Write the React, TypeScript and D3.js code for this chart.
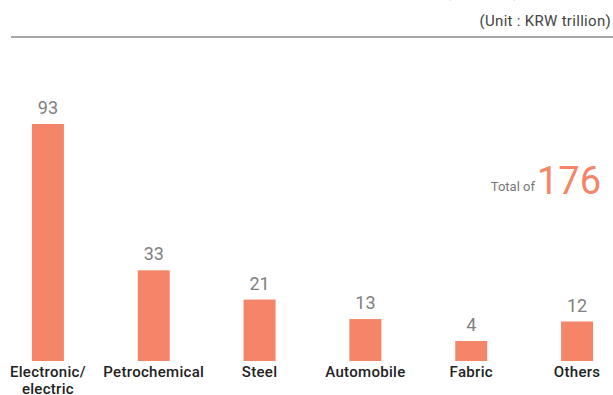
import React from "react";
import * as d3 from "d3";

const categories = [["Electronic/", "electric"], ["Petrochemical"], ["Steel"], ["Automobile"], ["Fabric"], ["Others"]];
const values = [93, 33, 21, 13, 4, 12];
const totalLabel = "Total of";
const totalValue = 176;
const unitLabel = "(Unit : KRW trillion)";
const titleText = "Damage Scale by Industry Type (Apply)";

const W = 613;
const H = 395;
const FONT = "Roboto, 'Noto Sans', sans-serif";

export default function App() {
  const x = d3
    .scaleBand<number>()
    .domain(d3.range(values.length))
    .range([-5, 630])
    .paddingInner(0.7)
    .paddingOuter(0.35);
  const y = d3.scaleLinear().domain([-4.2, 93]).range([361, 124]);
  const bw = 32;

  return (
    <svg
      width={W}
      height={H}
      style={{ position: "absolute", left: 0, top: 0, background: "#fff" }}
      fontFamily={FONT}
    >
      <text x={310} y={-5} textAnchor="middle" fontSize={24} fontWeight={700} fill="#2b7bb9">
        {titleText}
      </text>
      <text x={611} y={26} textAnchor="end" fontSize={15} fill="#444" letterSpacing={0.3}>
        {unitLabel}
      </text>
      <line x1={11} x2={613} y1={37} y2={37} stroke="#a8a8a8" strokeWidth={2} />
      {values.map((v, i) => {
        const cx = x(i)! + x.bandwidth() / 2;
        return (
          <g key={i}>
            <rect x={cx - bw / 2} y={y(v)} width={bw} height={y(-4.2) - y(v)} fill="#f58568" />
            <text x={cx} y={y(v) - 10} textAnchor="middle" fontSize={18} fill="#808080">
              {v}
            </text>
            {categories[i].map((line, j) => (
              <text key={j} x={cx} y={377 + j * 17} textAnchor="middle" fontSize={15} fontWeight={500} fill="#222" letterSpacing={0.3}>
                {line}
              </text>
            ))}
          </g>
        );
      })}
      <text x={535} y={191} textAnchor="end" fontSize={13} fill="#777">
        {totalLabel}
      </text>
      <text x={601} y={194} textAnchor="end" fontSize={38} fill="#f58568">
        {totalValue}
      </text>
    </svg>
  );
}
